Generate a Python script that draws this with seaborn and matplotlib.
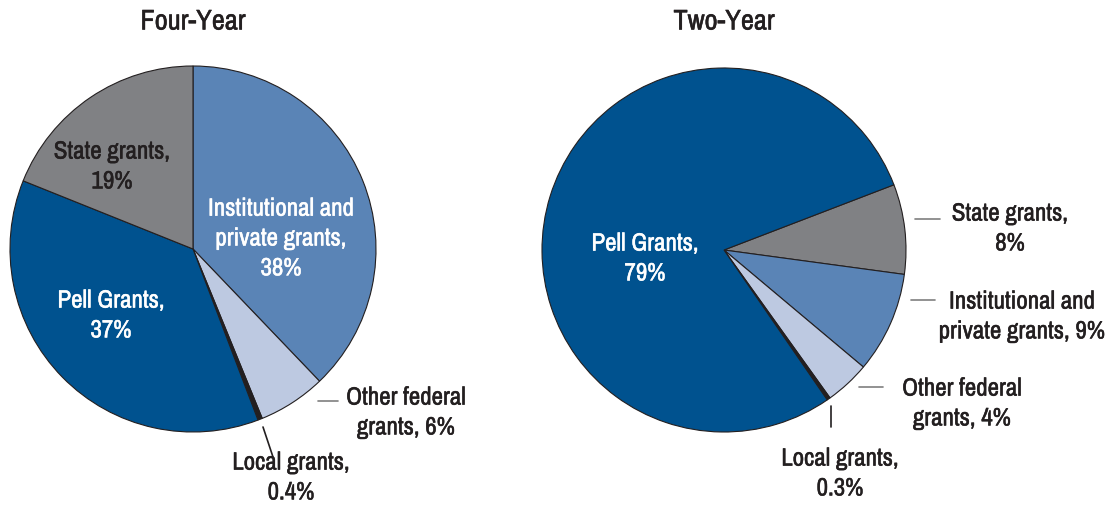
import matplotlib
matplotlib.use("Agg")
import matplotlib.pyplot as plt
import matplotlib.patheffects as pe
from matplotlib import font_manager
from matplotlib.lines import Line2D
import seaborn as sns

# Four-year institutions (clockwise from 12 o'clock)
four_labels = ["Institutional and private grants", "Other federal grants",
               "Local grants", "Pell Grants", "State grants"]
four_values = [38, 6, 0.4, 37, 19]

# Two-year institutions (clockwise from the State grants wedge)
two_labels = ["State grants", "Institutional and private grants",
              "Other federal grants", "Local grants", "Pell Grants"]
two_values = [8, 9, 4, 0.3, 79]

colors = {
    "Pell Grants": "#00528f",
    "Institutional and private grants": "#5a84b6",
    "Other federal grants": "#bdc9e1",
    "State grants": "#808184",
    "Local grants": "#231f20",
}

sns.set_theme(style="white")

# prefer a narrow face if the system has one
fonts = font_manager.fontManager.ttflist
narrow = [f.name for f in fonts if "Narrow" in f.name or "Condensed" in f.name]
stretch = "normal"
if narrow:
    fam, fs, tfs = narrow[0], 18, 20.5
elif any(f.name == "DejaVu Sans" and f.stretch == "condensed" for f in fonts):
    fam, fs, tfs, stretch = "DejaVu Sans", 15, 17.5, "condensed"
else:
    fam, fs, tfs = "Roboto", 15.5, 17.5
plt.rcParams["font.family"] = [fam, "DejaVu Sans"]
plt.rcParams["font.stretch"] = stretch

W, H = 1108, 513
fig = plt.figure(figsize=(W / 100, H / 100), dpi=100)


def px(x, y):
    return x / W, 1 - y / H


def pie_axes(cx, cy, r):
    return fig.add_axes([(cx - r) / W, (H - cy - r) / H, 2 * r / W, 2 * r / H])


def finish(ax):
    ax.set_xlim(-1, 1)
    ax.set_ylim(-1, 1)
    ax.set_aspect("equal")
    ax.axis("off")


ax1 = pie_axes(193, 249, 183)
ax1.pie(four_values, colors=[colors[k] for k in four_labels], startangle=90,
        counterclock=False, radius=1,
        wedgeprops=dict(edgecolor="#231f20", linewidth=0.8))
finish(ax1)

ax2 = pie_axes(724, 250, 182)
ax2.pie(two_values, colors=[colors[k] for k in two_labels], startangle=21,
        counterclock=False, radius=1,
        wedgeprops=dict(edgecolor="#231f20", linewidth=0.8))
finish(ax2)

dark = "#231f20"


def heavy(color):
    # a thin outline in the text colour to get a medium weight look
    return [pe.withStroke(linewidth=0.35, foreground=color)]


def label(x, y, s, color=dark):
    fig.text(*px(x, y), s, ha="center", va="center", fontsize=fs,
             color=color, linespacing=1.36, path_effects=heavy(color))


def leader(x0, y0, x1, y1, color="#7f7f7f"):
    a = px(x0, y0)
    b = px(x1, y1)
    fig.add_artist(Line2D([a[0], b[0]], [a[1], b[1]], color=color,
                          linewidth=1.2, transform=fig.transFigure))


fig.text(*px(193, 22), "Four-Year", ha="center", va="center", fontsize=tfs,
         color=dark, path_effects=heavy(dark))
fig.text(*px(724, 22), "Two-Year", ha="center", va="center", fontsize=tfs,
         color=dark, path_effects=heavy(dark))

# Four-year labels
label(112, 166, "State grants,\n19%")
label(281, 238, "Institutional and\nprivate grants,\n38%", color="white")
label(111, 315, "Pell Grants,\n37%", color="white")
label(406, 412, "Other federal\ngrants, 6%")
leader(318, 401, 338, 401)
label(291, 477, "Local grants,\n0.4%")
leader(263, 427, 273, 457, color=dark)

# Two-year labels
label(645, 258, "Pell Grants,\n79%", color="white")
label(1010, 228, "State grants,\n8%")
leader(915, 219, 940, 219)
label(1022, 316, "Institutional and\nprivate grants, 9%")
leader(911, 300, 935, 300)
label(962, 403, "Other federal\ngrants, 4%")
leader(859, 387, 883, 387)
label(840, 473, "Local grants,\n0.3%")
leader(831, 406, 831, 427, color=dark)

fig.savefig("out.png", dpi=100)
